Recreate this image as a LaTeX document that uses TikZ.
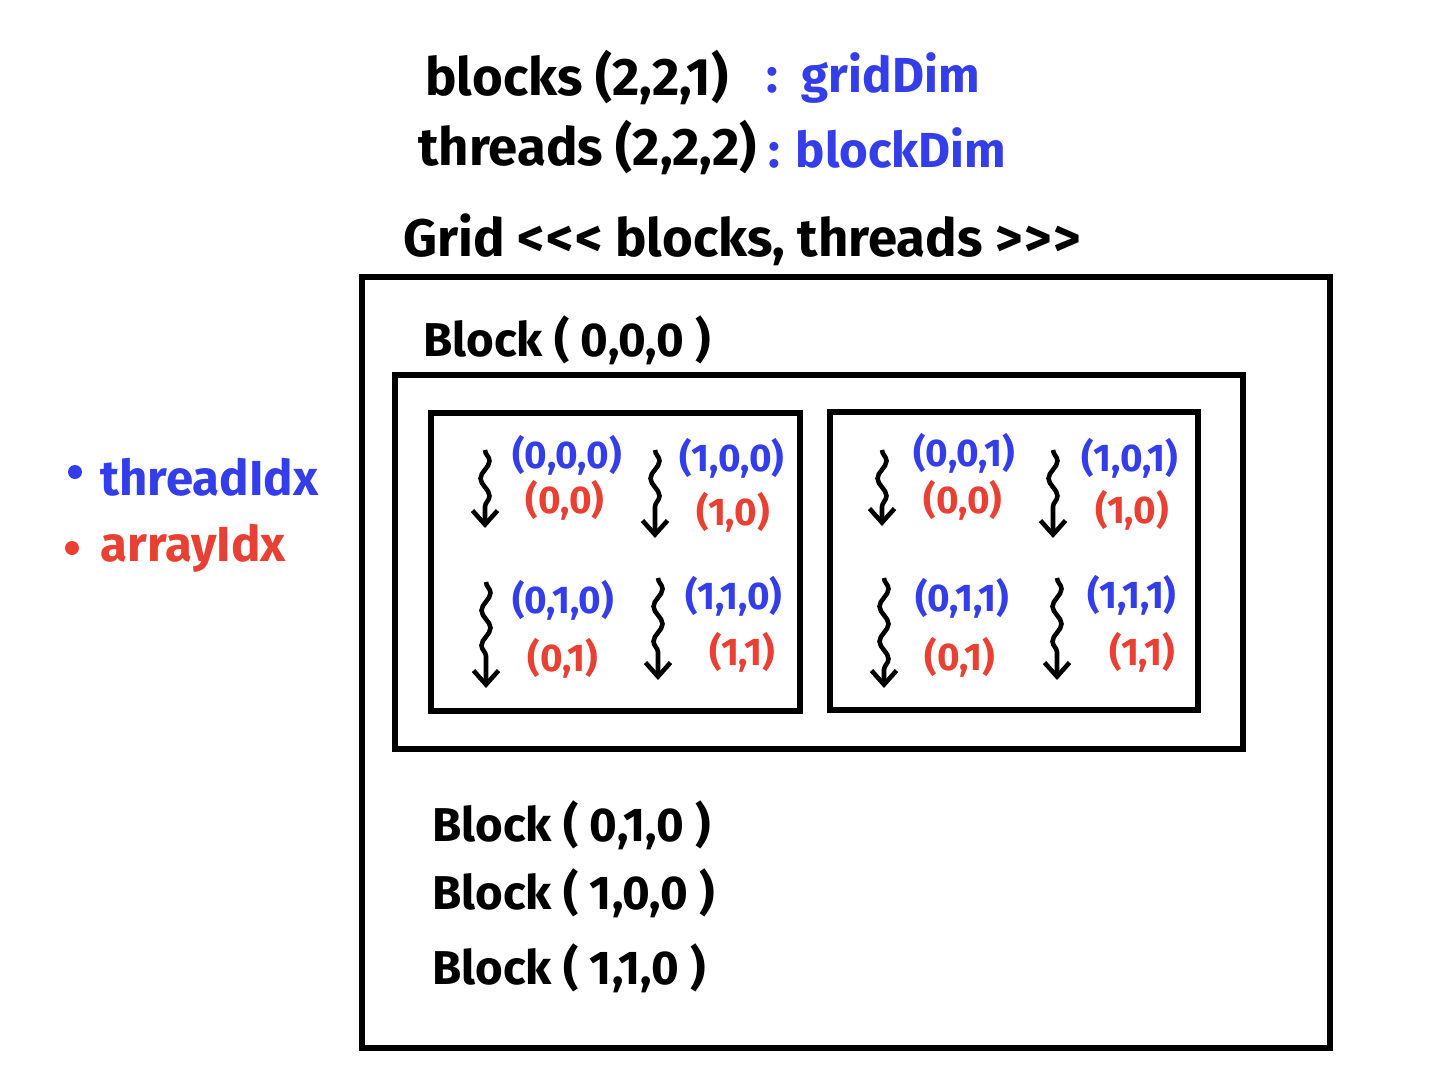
\documentclass[tikz,border=0pt]{standalone}
\usepackage{fontspec}
\setmainfont{Fira Sans}
\usetikzlibrary{arrows.meta,decorations.pathmorphing}
\definecolor{tblue}{RGB}{52,62,232}
\definecolor{ared}{RGB}{232,64,50}
\tikzset{
  box/.style={draw,line width=3pt},
  lbl/.style={anchor=west,inner sep=0pt,font=\fontsize{30}{36}\selectfont\bfseries},
  tid/.style={inner sep=0pt,text=tblue,font=\fontsize{22}{26}\selectfont\bfseries},
  aid/.style={inner sep=0pt,text=ared,font=\fontsize{22}{26}\selectfont\bfseries},
  wave/.style={line width=2.6pt,-{Straight Barb[length=2.8mm,width=5mm]},
    decorate,decoration={snake,amplitude=0.9mm,segment length=7mm,post length=3.5mm}}
}
\begin{document}
\begin{tikzpicture}[x=0.02cm,y=-0.02cm]
  \useasboundingbox (0,0) rectangle (1440,1071);

  % launch configuration
  \node[lbl] (blk) at (425,78) {blocks (2,2,1)};
  \node[lbl,text=tblue,font=\fontsize{28}{34}\selectfont\bfseries] (gdim) at (766,78) {:\, gridDim};
  \node[lbl] (thr) at (418,148) {threads (2,2,2)};
  \node[lbl,text=tblue,font=\fontsize{28}{34}\selectfont\bfseries] (bdim) at (768,148) {: blockDim};
  \node[lbl] (grid) at (403,240)
    {Grid <\kern1pt<\kern1pt< blocks, threads >\kern1pt>\kern1pt>};

  % grid and block boxes
  \draw[box] (362,277) rectangle (1330,1048);
  \node[lbl,font=\fontsize{27}{32}\selectfont\bfseries] (b000) at (423,340) {Block ( 0,0,0 )};
  \draw[box] (395,375) rectangle (1243,749);
  \draw[box] (431,413) rectangle (800,711);
  \draw[box] (830,412) rectangle (1198,710);

  % z = 0
  \node[tid] (t000) at (567,455) {(0,0,0)};
  \node[aid] (a00a) at (565,500) {(0,0)};
  \node[tid] (t100) at (732,458) {(1,0,0)};
  \node[aid] (a10a) at (733,512) {(1,0)};
  \node[tid] (t010) at (563,600) {(0,1,0)};
  \node[aid] (a01a) at (563,658) {(0,1)};
  \node[tid] (t110) at (734,596) {(1,1,0)};
  \node[aid] (a11a) at (742,652) {(1,1)};

  % z = 1
  \node[tid] (t001) at (964,453) {(0,0,1)};
  \node[aid] (a00b) at (963,500) {(0,0)};
  \node[tid] (t101) at (1130,458) {(1,0,1)};
  \node[aid] (a10b) at (1132,510) {(1,0)};
  \node[tid] (t011) at (962,598) {(0,1,1)};
  \node[aid] (a01b) at (960,657) {(0,1)};
  \node[tid] (t111) at (1132,595) {(1,1,1)};
  \node[aid] (a11b) at (1142,652) {(1,1)};

  \foreach \n/\x/\ya/\yb in {w1/485/450/528, w2/655/450/538, w3/486/582/688, w4/658/578/680,
      w5/882/450/526, w6/1053/450/538, w7/884/578/688, w8/1057/578/680}{
    \coordinate (\n s) at (\x,\ya);
    \coordinate (\n e) at (\x,\yb);
    \draw[wave] (\n s) -- (\n e);
  }

  % legend
  \fill[tblue] (75,472) circle (7);
  \node[lbl,text=tblue,font=\fontsize{28}{34}\selectfont\bfseries] (tidx) at (100,477) {threadIdx};
  \fill[ared] (72,548) circle (7);
  \node[lbl,text=ared,font=\fontsize{28}{34}\selectfont\bfseries] (aidx) at (100,548) {arrayIdx};

  % remaining blocks
  \node[lbl,font=\fontsize{27}{32}\selectfont\bfseries] (b010) at (432,825) {Block ( 0,1,0 )};
  \node[lbl,font=\fontsize{27}{32}\selectfont\bfseries] (b100) at (432,893) {Block ( 1,0,0 )};
  \node[lbl,font=\fontsize{27}{32}\selectfont\bfseries] (b110) at (432,968) {Block ( 1,1,0 )};
\end{tikzpicture}
\end{document}
